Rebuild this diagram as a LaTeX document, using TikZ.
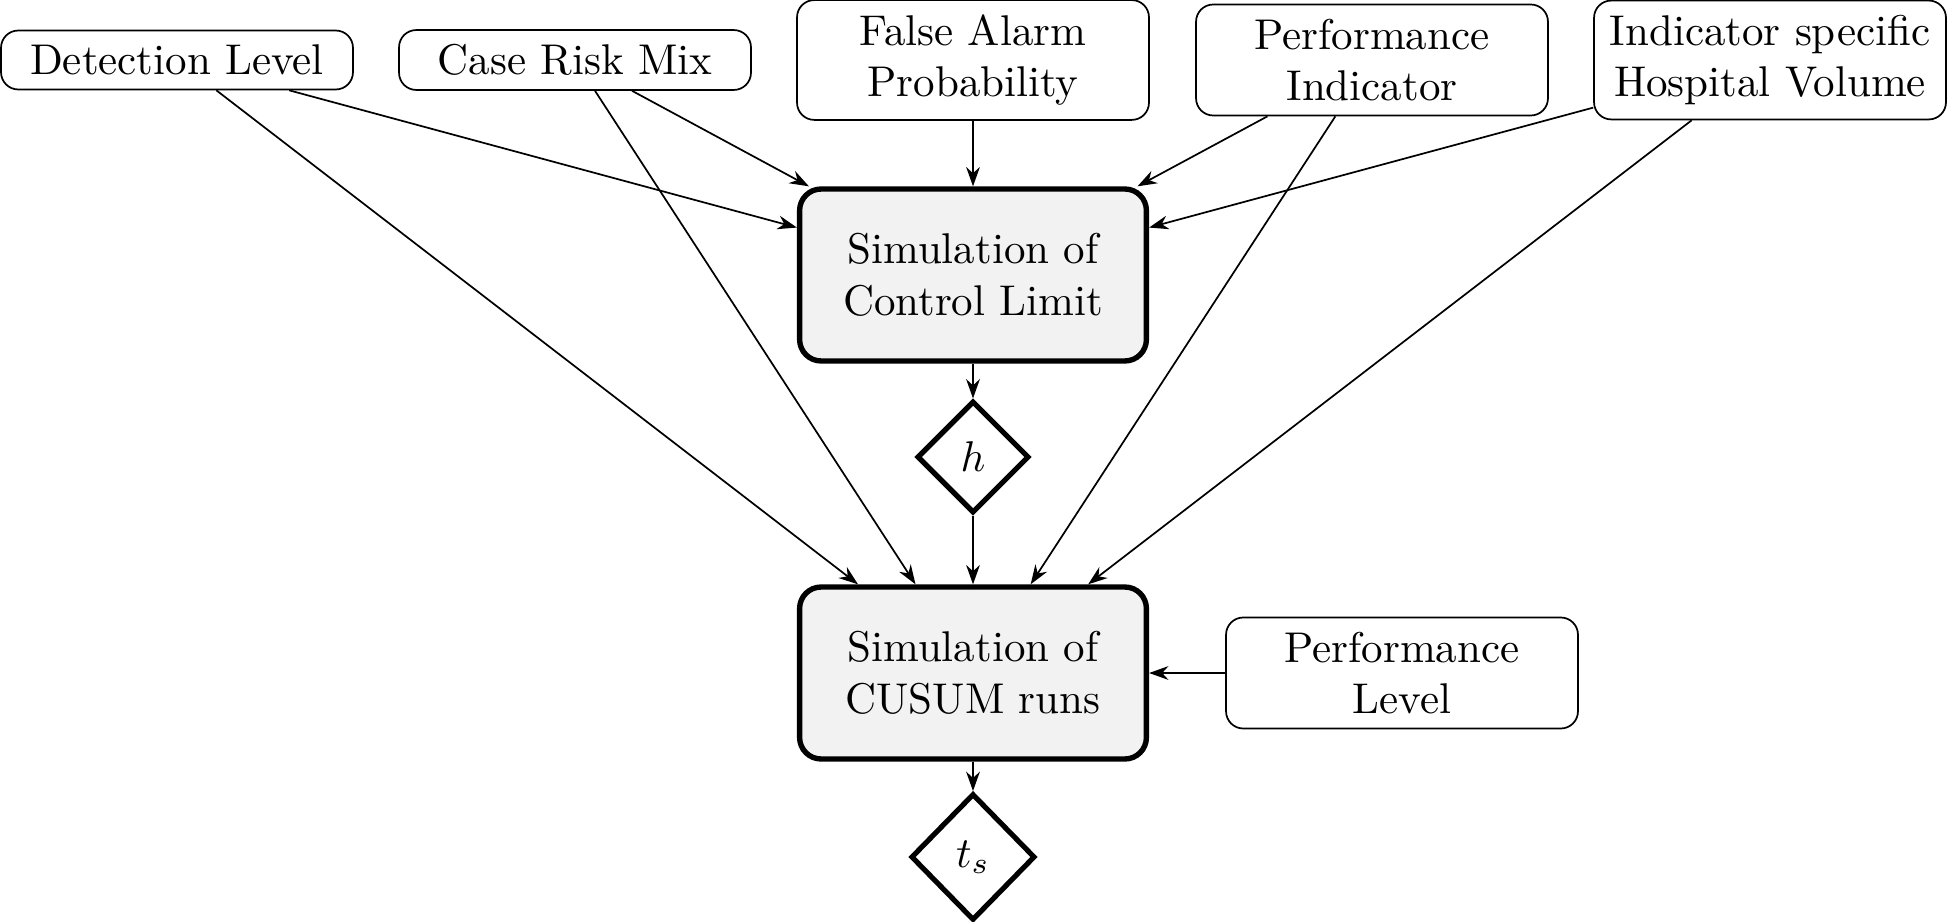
\documentclass[tikz,border=0pt]{standalone}
\usetikzlibrary{shapes.geometric,arrows.meta}
\begin{document}
\begin{tikzpicture}[x=0.2326pt,y=-0.2326pt,
  inbox/.style={draw, rounded corners=4pt, text width=75.2pt, align=center, line width=0.4pt, inner sep=3.33pt},
  simbox/.style={draw, line width=1.25pt, rounded corners=5pt, fill=black!5, text width=74pt, align=center, minimum height=40pt},
  outdia/.style={draw, diamond, line width=1.2pt},
  arr/.style={-{Stealth[length=4.5pt,width=3.2pt]}, line width=0.4pt}]
\useasboundingbox (0,0) rectangle (1947,922);
\node[inbox] (dl) at (177,60) {Detection Level};
\node[inbox] (crm) at (575,60) {Case Risk Mix};
\node[inbox] (fap) at (973,60) {False Alarm\\Probability};
\node[inbox] (pi) at (1372,60) {Performance\\Indicator};
\node[inbox] (hv) at (1770,60) {Indicator specific\\Hospital Volume};
\node[simbox] (cl) at (973,275) {Simulation of\\Control Limit};
\node[outdia] (h) at (973,457) {$h$};
\node[simbox] (cu) at (973,673) {Simulation of\\CUSUM runs};
\node[inbox] (pl) at (1402,673) {Performance\\Level};
\node[outdia, minimum height=29.5pt] (ts) at (973,857) {$t_s$};
\draw[arr] (dl) -- (cl);
\draw[arr] (crm) -- (cl);
\draw[arr] (fap) -- (cl);
\draw[arr] (pi) -- (cl);
\draw[arr] (hv) -- (cl);
\draw[arr] (cl) -- (h);
\draw[arr] (dl) -- (cu);
\draw[arr] (crm) -- (cu);
\draw[arr] (h) -- (cu);
\draw[arr] (pi) -- (cu);
\draw[arr] (hv) -- (cu);
\draw[arr] (pl) -- (cu);
\draw[arr] (cu) -- (ts);
\end{tikzpicture}
\end{document}
